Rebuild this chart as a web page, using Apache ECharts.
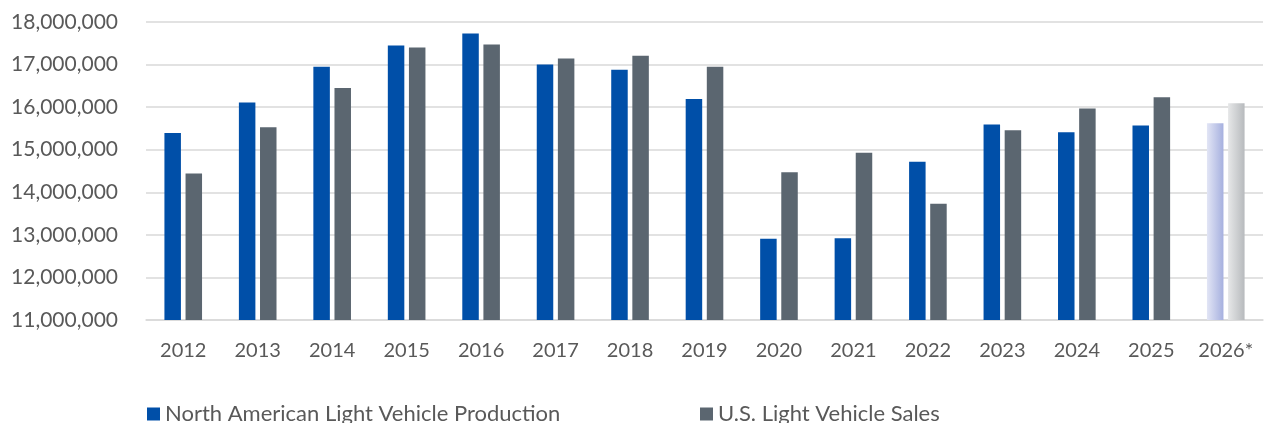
<!DOCTYPE html>
<html>
<head>
<meta charset="utf-8">
<script src="https://cdn.jsdelivr.net/npm/echarts@6/dist/echarts.min.js"></script>
<style>
html,body{margin:0;padding:0;background:#fff;}
#chart{width:1265px;height:423px;}
</style>
</head>
<body>
<div id="chart"></div>
<script>
const categories = ['2012','2013','2014','2015','2016','2017','2018','2019','2020','2021','2022','2023','2024','2025','2026*'];
const productionName = 'North American Light Vehicle Production';
const salesName = 'U.S. Light Vehicle Sales';
const production = [15390000,16110000,16950000,17450000,17730000,17000000,16880000,16190000,12910000,12920000,14720000,15590000,15410000,15570000,15620000];
const sales = [14440000,15530000,16450000,17400000,17470000,17140000,17210000,16950000,14470000,14930000,13730000,15460000,15970000,16230000,16090000];
const forecastCategory = '2026*';
const yMin = 11000000, yMax = 18000000, yStep = 1000000;

const FONT = 'Lato';
const TXT = '#595959';
const PROD_COLOR = '#004FA8';
const SALES_COLOR = '#5B6670';

function grad(c0, c1){
  return new echarts.graphic.LinearGradient(0,0,1,0,[{offset:0,color:c0},{offset:1,color:c1}]);
}
function mkData(values, c0, c1){
  return values.map((v,i)=> categories[i]===forecastCategory
    ? {value:v, itemStyle:{color:grad(c0,c1)}}
    : v);
}

const legendText = {fontFamily:FONT, fontSize:22, color:TXT, lineHeight:26};
const chart = echarts.init(document.getElementById('chart'), null, {renderer:'canvas'});
chart.setOption({
  animation:false,
  backgroundColor:'#ffffff',
  textStyle:{fontFamily:FONT},
  grid:{left:146, right:2, top:22, bottom:103, containLabel:false},
  legend:[
    {data:[productionName], left:147, top:401, padding:0, icon:'rect', itemWidth:13, itemHeight:13, itemGap:0, textStyle:legendText},
    {data:[salesName], left:700, top:401, padding:0, icon:'rect', itemWidth:13, itemHeight:13, itemGap:0, textStyle:legendText}
  ],
  xAxis:{
    type:'category', data:categories,
    axisTick:{show:false},
    axisLine:{show:true, lineStyle:{color:'#d9d9d9', width:1.5}},
    axisLabel:{fontFamily:FONT, fontSize:20, color:TXT, margin:21}
  },
  yAxis:{
    type:'value', min:yMin, max:yMax, interval:yStep,
    axisLine:{show:false}, axisTick:{show:false},
    splitLine:{lineStyle:{color:'#d9d9d9', width:1.5}},
    axisLabel:{fontFamily:FONT, fontSize:21, color:TXT, margin:28,
      formatter:v=>v.toLocaleString('en-US')}
  },
  series:[
    {name:productionName, type:'bar', data:mkData(production,'#e2e5f5','#a6b0df'),
     barWidth:16.5, barGap:'28%', itemStyle:{color:PROD_COLOR}},
    {name:salesName, type:'bar', data:mkData(sales,'#e6e7e8','#b7babd'),
     barWidth:16.5, barGap:'28%', itemStyle:{color:SALES_COLOR}}
  ]
});
</script>
</body>
</html>
